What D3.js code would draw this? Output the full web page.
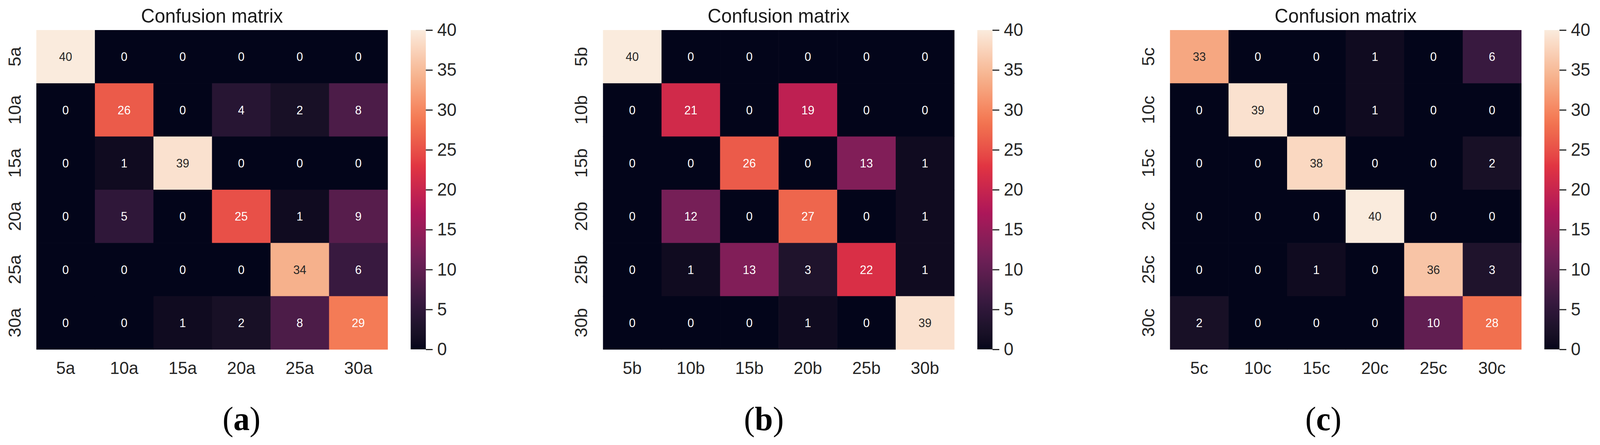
<!DOCTYPE html>
<html>
<head>
<meta charset="utf-8">
<script src="https://cdn.jsdelivr.net/npm/d3@7"></script>
<style>
  html, body { margin: 0; padding: 0; background: #ffffff; width: 100%; height: 100%; overflow: hidden; }
  #chart { width: 100vw; height: 100vh; }
  svg { display: block; width: 100vw; height: 100vh; }
</style>
</head>
<body>
<div id="chart"></div>
<script>
// ---------------- DATA ----------------
const panelTitles = ["Confusion matrix", "Confusion matrix", "Confusion matrix"];
const panelLetters = ["a", "b", "c"];

const labelsA = ["5a", "10a", "15a", "20a", "25a", "30a"];
const labelsB = ["5b", "10b", "15b", "20b", "25b", "30b"];
const labelsC = ["5c", "10c", "15c", "20c", "25c", "30c"];

const matrixA = [
  [40, 0, 0, 0, 0, 0],
  [0, 26, 0, 4, 2, 8],
  [0, 1, 39, 0, 0, 0],
  [0, 5, 0, 25, 1, 9],
  [0, 0, 0, 0, 34, 6],
  [0, 0, 1, 2, 8, 29]
];
const matrixB = [
  [40, 0, 0, 0, 0, 0],
  [0, 21, 0, 19, 0, 0],
  [0, 0, 26, 0, 13, 1],
  [0, 12, 0, 27, 0, 1],
  [0, 1, 13, 3, 22, 1],
  [0, 0, 0, 1, 0, 39]
];
const matrixC = [
  [33, 0, 0, 1, 0, 6],
  [0, 39, 0, 1, 0, 0],
  [0, 0, 38, 0, 0, 2],
  [0, 0, 0, 40, 0, 0],
  [0, 0, 1, 0, 36, 3],
  [2, 0, 0, 0, 10, 28]
];

const colorbarTicks = [0, 5, 10, 15, 20, 25, 30, 35, 40];
const valueDomain = [0, 40];

// seaborn "rocket" colormap anchor colours
const rocketAnchors = ["#03051a", "#35193e", "#701f57", "#ad1759", "#e13342", "#f37651", "#f6b48f", "#faebdd"];

// ---------------- LAYOUT ----------------
const W = 4227, H = 1140;
const layout = {
  heatLeft: [96, 1593, 3091],
  heatTop: 77,
  heatW: 928,
  heatH: 818,
  cbOffset: 989,
  cbW: 40,
  letterX: [638, 2018, 3496],
  letterY: 1102
};
const sansFont = "'Liberation Sans', Arial, Helvetica, sans-serif";
const serifFont = "'Liberation Serif', 'Times New Roman', serif";
const textDark = "#262626";

const panels = [
  { labels: labelsA, matrix: matrixA },
  { labels: labelsB, matrix: matrixB },
  { labels: labelsC, matrix: matrixC }
];

const svg = d3.select("#chart").append("svg")
  .attr("viewBox", `0 0 ${W} ${H}`)
  .attr("preserveAspectRatio", "none");
svg.append("rect").attr("width", W).attr("height", H).attr("fill", "#ffffff");

const rocketInterp = d3.piecewise(d3.interpolateLab, rocketAnchors);
const color = d3.scaleSequential(rocketInterp).domain(valueDomain);

function relLum(c) {
  const rgb = d3.rgb(c);
  const f = v => { v /= 255; return v <= 0.03928 ? v / 12.92 : Math.pow((v + 0.055) / 1.055, 2.4); };
  return 0.2126 * f(rgb.r) + 0.7152 * f(rgb.g) + 0.0722 * f(rgb.b);
}

// gradient for colorbars
const defs = svg.append("defs");
const grad = defs.append("linearGradient").attr("id", "rocketGrad")
  .attr("x1", 0).attr("y1", 1).attr("x2", 0).attr("y2", 0);
d3.range(0, 41).forEach(i => {
  const t = i / 40;
  grad.append("stop").attr("offset", t).attr("stop-color", color(valueDomain[0] + t * (valueDomain[1] - valueDomain[0])));
});

panels.forEach((p, pi) => {
  const left = layout.heatLeft[pi];
  const top = layout.heatTop;
  const g = svg.append("g").attr("transform", `translate(${left},${top})`);

  const x = d3.scaleBand().domain(p.labels).range([0, layout.heatW]).padding(0);
  const y = d3.scaleBand().domain(p.labels).range([0, layout.heatH]).padding(0);

  const cells = [];
  p.matrix.forEach((row, ri) => row.forEach((v, ci) => cells.push({ r: p.labels[ri], c: p.labels[ci], v })));

  g.selectAll("rect.cell").data(cells).enter().append("rect")
    .attr("class", "cell")
    .attr("x", d => x(d.c))
    .attr("y", d => y(d.r))
    .attr("width", x.bandwidth() + 0.6)
    .attr("height", y.bandwidth() + 0.6)
    .attr("fill", d => color(d.v));

  g.selectAll("text.annot").data(cells).enter().append("text")
    .attr("class", "annot")
    .attr("x", d => x(d.c) + x.bandwidth() / 2)
    .attr("y", d => y(d.r) + y.bandwidth() / 2)
    .attr("dy", "0.36em")
    .attr("text-anchor", "middle")
    .attr("font-family", sansFont)
    .attr("font-size", 31)
    .attr("fill", d => relLum(color(d.v)) > 0.408 ? textDark : "#ffffff")
    .text(d => d.v);

  // title
  g.append("text")
    .attr("x", layout.heatW / 2)
    .attr("y", 58 - top)
    .attr("text-anchor", "middle")
    .attr("font-family", sansFont)
    .attr("font-size", 50)
    .attr("fill", "#1a1a1a")
    .text(panelTitles[pi]);

  // x axis
  const xAxis = g.append("g").attr("transform", `translate(0,${layout.heatH})`)
    .call(d3.axisBottom(x).tickSize(0).tickPadding(31));
  xAxis.select(".domain").remove();
  xAxis.selectAll("text")
    .attr("font-family", sansFont).attr("font-size", 45).attr("fill", textDark);

  // y axis (rotated labels)
  const yAxis = g.append("g")
    .call(d3.axisLeft(y).tickSize(0));
  yAxis.select(".domain").remove();
  yAxis.selectAll("text")
    .attr("x", null).attr("dy", "0.36em")
    .attr("text-anchor", "middle")
    .attr("transform", "translate(-58,0) rotate(-90)")
    .attr("font-family", sansFont).attr("font-size", 45).attr("fill", textDark);

  // colorbar
  const cbX = layout.cbOffset;
  const cbScale = d3.scaleLinear().domain(valueDomain).range([layout.heatH, 0]);
  g.append("rect")
    .attr("x", cbX).attr("y", 0)
    .attr("width", layout.cbW).attr("height", layout.heatH)
    .attr("fill", "url(#rocketGrad)");
  const cbAxis = g.append("g").attr("transform", `translate(${cbX + layout.cbW},0)`)
    .call(d3.axisRight(cbScale).tickValues(colorbarTicks).tickSize(18).tickPadding(12).tickFormat(d3.format("d")));
  cbAxis.select(".domain").remove();
  cbAxis.selectAll("line").attr("stroke", textDark).attr("stroke-width", 3);
  cbAxis.selectAll("text")
    .attr("font-family", sansFont).attr("font-size", 46).attr("fill", textDark);

  // panel letter
  const lt = svg.append("text")
    .attr("x", layout.letterX[pi]).attr("y", layout.letterY)
    .attr("text-anchor", "middle")
    .attr("font-family", serifFont).attr("font-size", 86).attr("fill", "#000000");
  lt.append("tspan").text("(");
  lt.append("tspan").attr("font-weight", "bold").text(panelLetters[pi]);
  lt.append("tspan").text(")");
});
</script>
</body>
</html>
